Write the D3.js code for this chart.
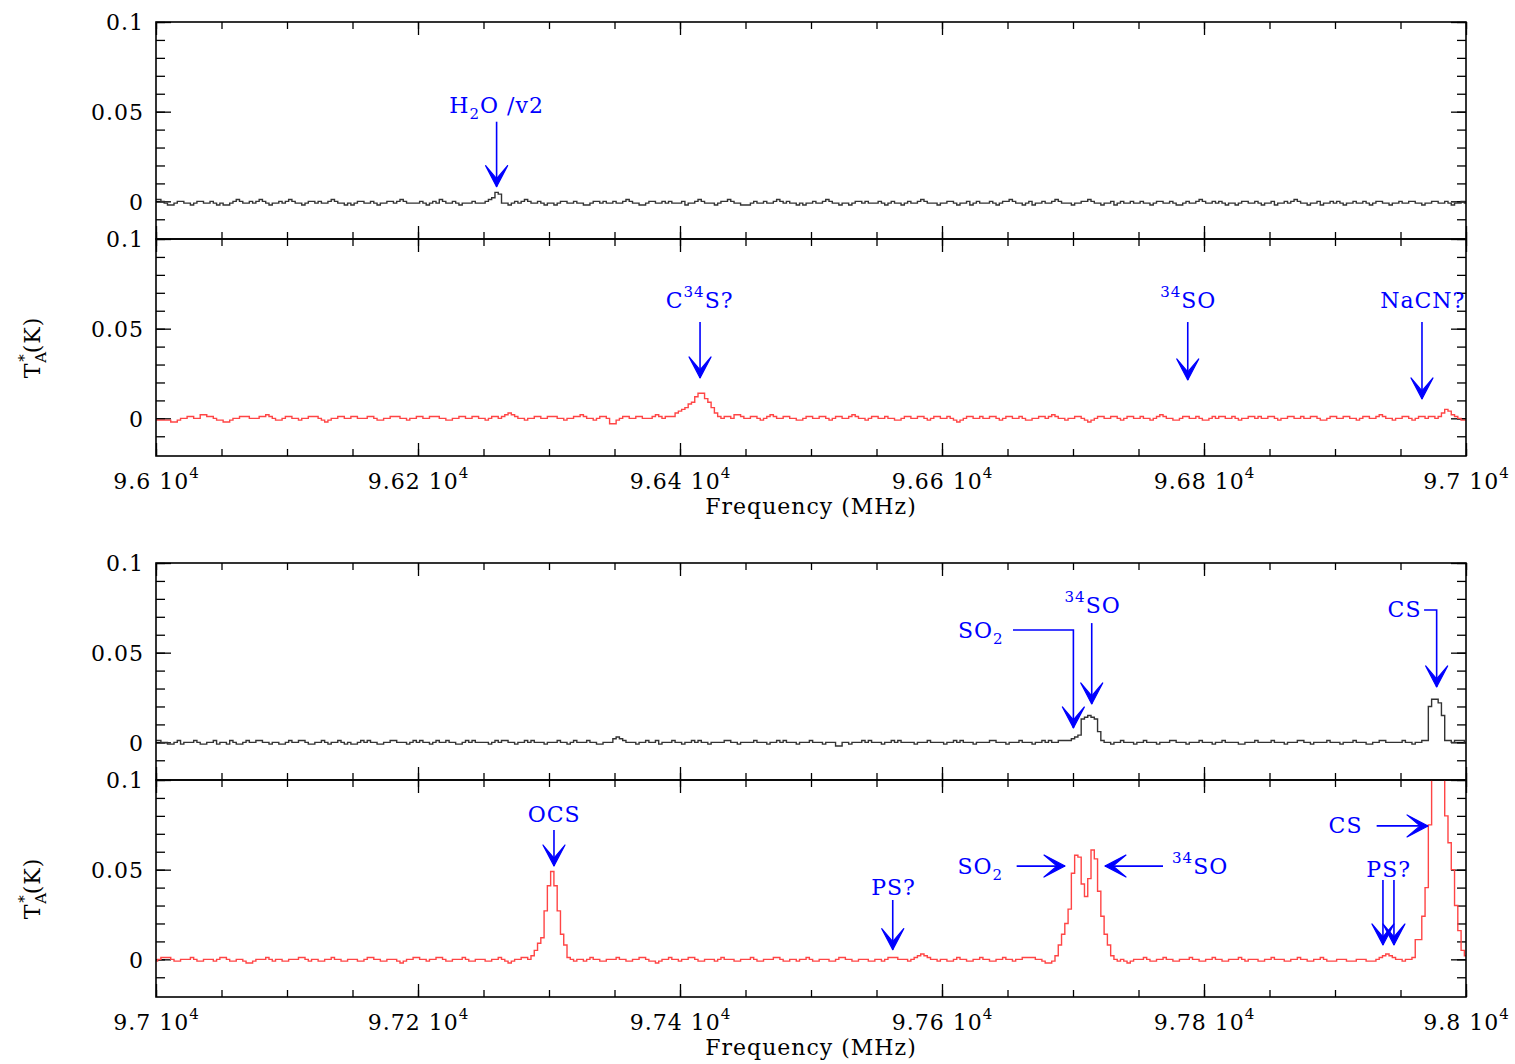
<!DOCTYPE html>
<html>
<head>
<meta charset="utf-8">
<script src="https://cdn.jsdelivr.net/npm/d3@7"></script>
<style>
body { margin: 0; background: #fff; }
svg text { font-family: "DejaVu Serif", serif; font-size: 22px; letter-spacing: 1px; }
</style>
</head>
<body>
<svg id="chart" width="1515" height="1064"></svg>
<script>
// channel width of the spectra (MHz)
const chanStep = 2.5
const topStart = 96000
const botStart = 97000

// antenna temperature in mK, one value per channel
const topBlack = [
  1,1,0,-1,-2,-2,-1,0,0,-1,-1,-2,-1,0,0,-1,-1,0,-1,-2,
  -1,-2,-2,-1,0,1,0,-1,-1,0,-1,0,1,0,-1,-2,-1,-1,0,-1,
  0,1,0,-1,-1,-2,-1,0,0,-1,0,-1,-1,0,1,0,-1,-1,-2,-1,
  -2,-1,0,0,-1,-1,0,-1,-2,-1,-1,0,0,-1,0,1,0,-1,-1,-1,
  -1,0,-1,-2,-1,0,-1,1,0,-1,-1,0,-1,-2,-1,-1,-1,0,-1,-1,
  -1,0,1,2,5,4,-1,-1,-2,-1,0,-1,0,1,0,-1,-1,0,-1,-2,
  -1,-1,-2,-1,0,0,-1,-1,0,-1,-1,-2,-2,-1,0,0,-1,0,-1,-1,
  0,-1,-1,0,1,0,-1,-1,-2,-2,-1,0,0,-1,-1,0,-1,0,-1,-1,
  -1,0,-2,-1,-1,0,1,0,-1,-1,-1,-2,-1,0,0,1,0,-1,-1,-2,
  -2,-2,-1,0,-1,-1,0,-1,-1,0,1,0,-1,0,-1,-1,-2,-1,-2,-1,
  -1,0,-1,-1,0,1,0,-1,-1,-2,-1,-1,-2,-1,0,0,-1,0,-1,-1,
  -1,0,-1,-2,-1,0,-1,-1,-2,-1,0,-1,-1,0,1,0,-1,-1,-1,-2,
  -1,-1,0,0,-1,-2,-1,-1,0,-2,-1,0,-1,-1,-1,0,-1,-2,-1,0,
  0,1,0,-1,-1,-2,-1,0,-2,-1,-1,0,-1,-1,0,1,0,-1,-1,-1,
  -2,-1,-1,0,0,1,0,-1,-1,-2,-1,-1,0,-2,-1,0,-1,-1,0,-1,
  -1,0,-1,-1,-2,-1,0,0,-1,-1,0,-1,-2,-2,-1,0,-1,-1,0,1,
  0,-1,-1,0,-1,0,-1,-2,-1,-1,-2,-1,0,0,-1,-1,0,-1,-2,-1,
  -1,0,-2,-1,-1,0,-1,0,1,0,-1,-1,-2,-1,-1,0,-2,-1,-1,0,
  -1,0,-1,-2,-1,-1,0,-1,-1,0,-1,-2,-1,0,0,-1,-1,-2,-1,-1,
  0,-1,-1,0,0,-1,-1,-2,-1,-1,0,0,-1,-1,0,-1,-2,-1,-1,0,
  -1
]
const topRed = [
  -1,-1,-1,-1,-1,-2,-2,-1,0,0,1,1,0,0,2,2,1,1,0,-1,
  -1,-2,-2,-1,0,0,1,1,1,0,0,0,1,1,2,1,0,-1,-1,0,
  1,1,0,0,-1,0,0,1,1,1,0,-1,-2,-1,0,0,1,1,0,0,
  1,1,0,0,0,1,1,0,-1,-1,0,0,1,1,1,0,0,-1,0,0,
  1,1,0,0,1,1,1,0,0,-1,-1,0,0,1,1,0,0,1,1,0,
  0,-1,0,1,1,0,1,2,3,2,1,0,0,-1,0,0,1,1,0,0,
  1,1,1,0,0,-1,0,0,1,1,2,1,0,0,-1,0,1,1,0,-3,
  -3,-1,0,1,1,0,0,1,1,0,0,0,1,2,1,0,1,1,1,3,
  4,5,6,8,9,12,14,14,11,9,6,3,1,0,1,1,0,2,2,1,
  0,0,1,1,0,-1,0,1,2,1,0,0,1,1,0,0,-1,-1,0,1,
  1,0,0,1,1,0,-1,0,1,1,0,0,1,2,1,0,0,-1,0,1,
  1,0,0,1,0,0,-1,-1,0,1,1,0,0,1,1,0,-1,0,1,1,
  0,0,1,0,-1,-2,-1,0,1,1,0,0,1,0,0,1,1,0,-1,0,
  1,1,0,0,1,0,-1,-1,0,0,1,1,0,1,2,1,0,0,-1,0,
  0,1,1,0,-1,-2,-1,0,1,1,0,0,1,1,0,-1,0,1,1,0,
  0,1,0,0,-1,0,1,2,1,0,0,-1,-1,0,1,1,0,0,1,0,
  -1,-1,0,1,0,1,1,0,0,1,0,-1,0,0,1,1,0,1,0,0,
  1,1,0,-1,0,0,1,1,0,0,1,0,0,1,1,0,-1,-1,0,1,
  1,0,0,1,1,0,0,-1,0,1,1,0,0,1,2,1,0,0,-1,0,
  0,1,1,0,-1,0,1,1,0,1,1,0,1,3,5,4,2,1,0,-1,
  -1
]
const botBlack = [
  1,1,0,0,-1,-1,0,1,-1,0,0,0,1,0,-1,-1,0,0,1,-1,
  0,0,-1,1,0,-1,-1,0,1,0,0,1,1,0,0,-1,0,0,-1,-1,
  0,1,0,0,1,1,0,-1,-1,0,0,1,0,-1,0,0,1,0,-1,0,
  -1,-1,0,1,0,1,0,0,-1,-1,0,0,1,1,0,0,0,-1,0,1,
  0,1,0,0,-1,0,1,0,0,1,0,0,-1,-1,0,1,0,1,0,0,
  0,0,-1,0,1,0,1,1,0,0,-1,0,0,1,0,1,0,0,0,-1,
  0,0,0,1,0,0,-1,0,1,0,0,0,1,0,0,-1,-1,0,0,0,
  2,3,2,1,0,0,0,-1,0,0,1,0,0,1,-1,0,0,0,1,0,
  0,-1,0,0,1,0,1,0,0,-1,0,0,0,0,1,1,0,0,-1,0,
  0,0,0,1,0,0,0,-1,0,0,1,0,1,0,0,0,-1,0,0,0,
  1,0,0,0,-1,0,0,0,-2,-2,0,0,-1,0,0,0,1,0,1,0,
  0,0,-1,0,0,1,0,1,0,0,0,0,-1,0,0,0,1,0,0,0,
  0,-1,0,0,1,0,1,0,0,0,-1,0,0,0,0,1,1,0,0,0,
  -1,0,0,0,1,0,0,0,-1,0,0,1,0,1,0,0,1,1,1,1,
  2,3,4,13,14,15,14,13,6,1,0,0,-1,0,0,1,0,0,0,-1,
  0,0,1,0,0,0,-1,0,0,0,1,1,0,0,0,-1,0,0,0,1,
  0,0,0,-1,0,0,1,0,0,0,0,-1,-1,0,0,0,1,0,0,0,
  0,1,0,0,0,-1,0,0,0,1,1,0,0,-1,0,0,0,0,1,0,
  0,0,-1,0,0,0,1,0,0,0,-1,-1,0,0,1,1,0,0,0,0,
  0,1,0,0,-1,0,0,1,1,20,24,24,22,15,1,1,0,1,1,1,
  0
]
const botRed = [
  -1,0,1,1,1,0,-1,-1,0,0,0,1,0,-1,-1,0,0,0,-1,0,
  1,1,0,-1,-1,0,0,-1,-2,-2,-1,0,0,0,1,0,-1,0,0,-1,
  -1,0,0,0,1,1,0,-1,0,0,-1,-1,0,0,1,0,0,-1,-1,0,
  0,0,-1,-1,0,1,1,0,0,-1,-1,0,0,0,-1,-2,-1,0,0,1,
  1,0,0,-1,0,0,1,1,0,-1,-1,0,0,0,1,0,-1,-1,0,0,
  0,-1,-1,0,0,1,0,-1,-2,-1,0,0,1,1,0,2,5,9,12,27,
  41,49,41,27,14,8,1,0,-1,0,0,-1,0,1,0,0,-1,-1,0,0,
  0,1,0,0,-1,-1,0,0,1,1,0,-1,-1,-2,-1,0,0,1,0,0,
  -1,0,0,1,1,0,-1,-1,0,0,0,-1,0,1,0,0,0,-1,-1,0,
  0,0,1,0,-1,-1,0,0,0,1,1,0,-1,-1,0,0,-1,0,0,1,
  0,-1,-1,0,0,0,-1,-1,0,1,1,0,0,-1,-1,0,0,0,-1,-1,
  0,0,-1,0,1,1,1,0,0,0,-1,0,1,2,3,2,1,0,0,-1,
  0,0,-1,-1,0,1,0,0,-1,-1,0,0,1,0,0,-1,-1,0,0,1,
  0,0,-1,0,0,1,1,1,1,0,0,-1,-2,-2,-1,2,8,14,20,28,
  48,58,57,42,35,45,61,56,38,24,14,8,2,0,-1,0,-1,-2,-1,0,
  0,0,1,0,-1,-1,0,0,1,0,0,-1,-1,0,0,0,1,0,0,-1,
  -1,0,0,1,0,0,-1,-1,0,0,0,1,0,-1,0,0,0,-1,-1,0,
  0,1,0,0,0,-1,-1,0,0,1,0,0,-1,-1,0,0,1,0,-1,-1,
  -1,0,0,0,-1,-1,-1,0,0,0,-1,-1,-1,0,1,2,3,2,1,0,
  0,-1,0,0,1,11,11,24,40,75,110,125,130,125,80,65,50,30,16,5,
  2
]

// tick values
const yTickVals = [0, 50, 100]          // mK, labelled
const yMinorVals = d3.range(-10, 101, 10)
const topMajor = [96000, 96200, 96400, 96600, 96800, 97000]
const botMajor = [97000, 97200, 97400, 97600, 97800, 98000]

// line identifications: label position and arrow path in (MHz, mK); head on last point
const topBlackLines = [
  {label: 'H_2O /v2', at: [96260, 49.3], anchor: 'middle', path: [[96260, 44.4], [96260, 8.2]]}
]
const topRedLines = [
  {label: 'C^34S?', at: [96415, 61.5], anchor: 'middle', path: [[96415.3, 53.7], [96415.3, 22.5]]},
  {label: '^34SO', at: [96788, 61.5], anchor: 'middle', path: [[96787.6, 53.7], [96787.6, 21.4]]},
  {label: 'NaCN?', at: [96967, 61.5], anchor: 'middle', path: [[96966.4, 53.7], [96966.4, 10.8]]}
]
const botBlackLines = [
  {label: 'SO_2', at: [97647, 58.2], anchor: 'end', path: [[97654.2, 62.6], [97700.3, 62.6], [97700.3, 8.0]]},
  {label: '^34SO', at: [97715, 71.9], anchor: 'middle', path: [[97714.3, 66.5], [97714.3, 21.4]]},
  {label: 'CS', at: [97966, 70.1], anchor: 'end', path: [[97968, 73.8], [97977.6, 73.8], [97977.6, 30.9]]}
]
const botRedLines = [
  {label: 'OCS', at: [97304, 76.7], anchor: 'middle', path: [[97303.8, 72.1], [97303.8, 52.0]]},
  {label: 'PS?', at: [97563, 35.9], anchor: 'middle', path: [[97562.4, 33.1], [97562.4, 5.4]]},
  {label: 'SO_2', at: [97646.6, 47.6], anchor: 'end', path: [[97657, 52.0], [97693.9, 52.0]]},
  {label: '^34SO', at: [97775.6, 47.6], anchor: 'start', path: [[97768.7, 52.0], [97724.4, 52.0]]},
  {label: 'CS', at: [97921, 70.6], anchor: 'end', path: [[97931.8, 74.4], [97971, 74.4]]},
  {label: 'PS?', at: [97941, 46.1], anchor: 'middle', path: [[97936.6, 44.2], [97936.6, 8.0]]},
  {label: '', at: [97945, 46.1], anchor: 'middle', path: [[97945, 44.2], [97945, 8.0]]}
]

const panels = [
  {top: 22, start: topStart, data: topBlack, color: '#333', lines: topBlackLines, major: topMajor, bottomLabels: false},
  {top: 239, start: topStart, data: topRed, color: '#ff4545', lines: topRedLines, major: topMajor, bottomLabels: true},
  {top: 563, start: botStart, data: botBlack, color: '#333', lines: botBlackLines, major: botMajor, bottomLabels: false},
  {top: 780, start: botStart, data: botRed, color: '#ff4545', lines: botRedLines, major: botMajor, bottomLabels: true}
]

const left = 156, W = 1310, H = 217
const blue = '#0000ff'
const svg = d3.select('#chart')

// text with _sub and ^sup parts
function richText(sel, str) {
  let shift = 0
  str.match(/[_^][0-9*]+|[^_^]+/g).forEach(tok => {
    let target = 0, size = null, txt = tok
    if (tok[0] === '_') { target = 6; size = '15px'; txt = tok.slice(1) }
    if (tok[0] === '^') { target = -11; size = '15px'; txt = tok.slice(1) }
    sel.append('tspan').attr('dy', target - shift).attr('font-size', size).text(txt)
    shift = target
  })
}

panels.forEach((p, idx) => {
  const g = svg.append('g').attr('transform', `translate(${left},${p.top})`)
  const x = d3.scaleLinear().domain([p.start, p.start + 1000]).range([0, W])
  const y = d3.scaleLinear().domain([-21, 100]).range([H, 0])
  const minor = d3.range(p.start, p.start + 1001, 50)

  // tick marks, all pointing inward
  const tickAxes = [
    [d3.axisTop(x).tickValues(minor).tickSize(7), `translate(0,${H})`],
    [d3.axisTop(x).tickValues(p.major).tickSize(13), `translate(0,${H})`],
    [d3.axisBottom(x).tickValues(minor).tickSize(7), 'translate(0,0)'],
    [d3.axisBottom(x).tickValues(p.major).tickSize(13), 'translate(0,0)'],
    [d3.axisRight(y).tickValues(yMinorVals).tickSize(9), 'translate(0,0)'],
    [d3.axisRight(y).tickValues(yTickVals).tickSize(15), 'translate(0,0)'],
    [d3.axisLeft(y).tickValues(yMinorVals).tickSize(9), `translate(${W},0)`],
    [d3.axisLeft(y).tickValues(yTickVals).tickSize(15), `translate(${W},0)`]
  ]
  tickAxes.forEach(([ax, tr]) => {
    const a = g.append('g').attr('transform', tr).call(ax.tickFormat(''))
    a.select('.domain').remove()
    a.selectAll('line').attr('stroke', '#000').attr('stroke-width', 1.3)
  })

  // y labels
  const yl = g.append('g').call(d3.axisLeft(y).tickValues(yTickVals).tickSize(0).tickPadding(12).tickFormat(d => d / 1000))
  yl.select('.domain').remove()
  yl.attr('font-size', null).attr('font-family', null)
  yl.selectAll('text').attr('dy', '0.36em')

  // spectrum
  const clipId = 'clip' + idx
  g.append('clipPath').attr('id', clipId).append('rect').attr('width', W).attr('height', H)
  const makeLine = d3.line()
    .x((d, i) => x(p.start + i * chanStep))
    .y(d => y(d))
    .curve(d3.curveStep)
  g.append('path')
    .attr('d', makeLine(p.data))
    .attr('fill', 'none')
    .attr('stroke', p.color)
    .attr('stroke-width', 1.4)
    .attr('clip-path', `url(#${clipId})`)

  // frame
  g.append('rect').attr('width', W).attr('height', H)
    .attr('fill', 'none').attr('stroke', '#000').attr('stroke-width', 1.6)

  // identifications
  p.lines.forEach(l => {
    const pts = l.path.map(([f, v]) => [x(f), y(v)])
    g.append('path').attr('d', d3.line()(pts))
      .attr('fill', 'none').attr('stroke', blue).attr('stroke-width', 1.6)
    const [tx, ty] = pts[pts.length - 1], [px, py] = pts[pts.length - 2]
    const ang = Math.atan2(ty - py, tx - px) * 180 / Math.PI
    g.append('path')
      .attr('d', 'M0,0L-21,-11L-8,0L-21,11Z')
      .attr('transform', `translate(${tx},${ty}) rotate(${ang})`)
      .attr('fill', blue).attr('stroke', blue)
      .attr('stroke-width', 1.2).attr('stroke-linejoin', 'round')
    if (l.label) {
      const t = g.append('text')
        .attr('x', x(l.at[0])).attr('y', y(l.at[1]))
        .attr('text-anchor', l.anchor).attr('fill', blue)
      richText(t, l.label)
    }
  })

  if (p.bottomLabels) {
    const xl = g.append('g').attr('transform', `translate(0,${H})`)
      .call(d3.axisBottom(x).tickValues(p.major).tickSize(0)
        .tickFormat(d => String(+(d / 1e4).toFixed(2)) + ' 10'))
    xl.select('.domain').remove()
    xl.attr('font-size', null).attr('font-family', null)
    xl.selectAll('text').attr('y', 33).attr('dy', 0)
      .append('tspan').attr('dy', -11).attr('font-size', '15px').text('4')

    g.append('text')
      .attr('x', W / 2).attr('y', H + 58)
      .attr('text-anchor', 'middle')
      .text('Frequency (MHz)')

    // y title
    const yt = g.append('text')
      .attr('transform', `translate(${40 - left},${H / 2}) rotate(-90)`)
      .attr('text-anchor', 'middle')
    yt.append('tspan').text('T')
    yt.append('tspan').attr('dy', 6).attr('font-size', '15px').text('A')
    yt.append('tspan').attr('dx', -11).attr('dy', -17).attr('font-size', '15px').text('*')
    yt.append('tspan').attr('dy', 11).text('(K)')
  }
})
</script>
</body>
</html>
